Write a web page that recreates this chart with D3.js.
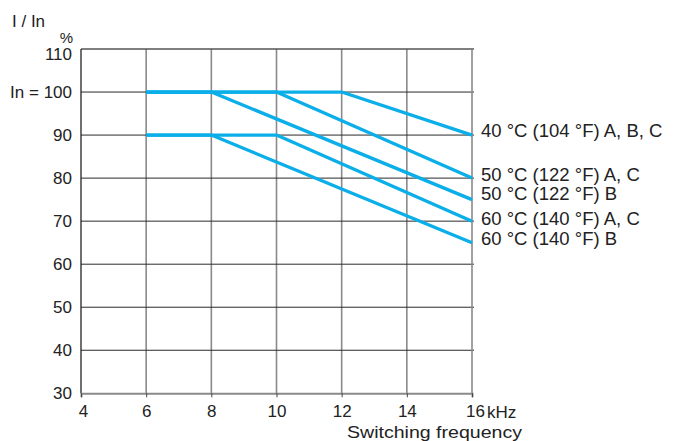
<!DOCTYPE html>
<html><head><meta charset="utf-8">
<script src="https://cdn.jsdelivr.net/npm/d3@7"></script>
<style>body{margin:0;background:#fff}svg{display:block}text{font-family:"Liberation Sans",Arial,sans-serif;fill:#222}</style>
</head><body><svg id="c" width="678" height="441"></svg>
<script>
const xTicks = [4, 6, 8, 10, 12, 14, 16];
const xTickLabels = ["4", "6", "8", "10", "12", "14", "16"];
const yTicks = [30, 40, 50, 60, 70, 80, 90, 100, 110];
const yTickLabels = ["30", "40", "50", "60", "70", "80", "90", "In = 100", "110"];
const seriesNames = ["40 °C (104 °F) A, B, C", "50 °C (122 °F) A, C", "50 °C (122 °F) B", "60 °C (140 °F) A, C", "60 °C (140 °F) B"];
const s40ABC = [[6, 100], [12, 100], [16, 90]];
const s50AC = [[6, 100], [10, 100], [16, 80]];
const s50B = [[6, 100], [8, 100], [16, 75]];
const s60AC = [[6, 90], [10, 90], [16, 70]];
const s60B = [[6, 90], [8, 90], [16, 65]];
const seriesData = [s40ABC, s50AC, s50B, s60AC, s60B];

const svg = d3.select("#c");
const FONT = "Liberation Sans, Arial, sans-serif";
const x = d3.scaleLinear().domain([4, 16]).range([81, 472]);
const y = d3.scaleLinear().domain([30, 110]).range([393.3, 49]);

// vertical grid (grey)
svg.append("g").selectAll("line").data(xTicks.slice(1, -1)).join("line")
  .attr("x1", d => x(d)).attr("x2", d => x(d)).attr("y1", y(110)).attr("y2", y(30))
  .attr("stroke", "#8a8a8a").attr("stroke-width", 1.6);
// horizontal grid (dark)
svg.append("g").selectAll("line").data(yTicks.slice(1, -1)).join("line")
  .attr("x1", x(4)).attr("x2", x(16) + 2).attr("y1", d => y(d)).attr("y2", d => y(d))
  .attr("stroke", "#2a2a2a").attr("stroke-width", 1);
// frame
svg.append("line").attr("x1", x(4)).attr("x2", x(16) + 2).attr("y1", y(110)).attr("y2", y(110)).attr("stroke", "#555").attr("stroke-width", 1.4);
svg.append("line").attr("x1", x(16)).attr("x2", x(16)).attr("y1", y(110)).attr("y2", y(30)).attr("stroke", "#8a8a8a").attr("stroke-width", 1.6);
svg.append("line").attr("x1", x(4)).attr("x2", x(4)).attr("y1", y(110)).attr("y2", y(30)).attr("stroke", "#222").attr("stroke-width", 1.3);

// x axis
const xAxis = d3.axisBottom(x).tickValues(xTicks).tickFormat((d, i) => xTickLabels[i]).tickSize(4).tickPadding(8);
const gx = svg.append("g").attr("transform", `translate(0,${y(30)})`).call(xAxis);
gx.select(".domain").attr("stroke", "#8a8a8a").attr("stroke-width", 2);
gx.selectAll(".tick line").attr("stroke", "#444");
gx.selectAll(".tick text").attr("font-size", 17).attr("fill", "#222").attr("font-family", FONT)
  .attr("dx", d => d === 16 ? 3 : (d === 4 ? 2 : 0));

// y axis
const yAxis = d3.axisLeft(y).tickValues(yTicks).tickFormat((d, i) => yTickLabels[i]).tickSize(0).tickPadding(9);
const gy = svg.append("g").attr("transform", `translate(${x(4)},0)`).call(yAxis);
gy.select(".domain").remove();
gy.selectAll(".tick text").attr("font-size", 17).attr("fill", "#222").attr("font-family", FONT)
  .attr("dy", d => d === 110 ? "0.62em" : "0.32em");

// series lines
const line = d3.line().x(d => x(d[0])).y(d => y(d[1]));
svg.append("g").selectAll("path").data(seriesData).join("path")
  .attr("d", line).attr("fill", "none").attr("stroke", "#0aaee8").attr("stroke-width", 3.3)
  .attr("stroke-linejoin", "round");

// series labels (small pixel nudges to separate them as in the reference)
const labelNudge = [-5, -4, -6.5, -2.5, -4.5];
svg.append("g").selectAll("text").data(seriesData).join("text")
  .attr("x", d => x(d[d.length - 1][0]) + 9)
  .attr("y", (d, i) => y(d[d.length - 1][1]) + labelNudge[i])
  .attr("dy", "0.36em").attr("font-size", 18.5)
  .text((d, i) => seriesNames[i]);

// titles
svg.append("text").attr("x", 12).attr("y", 27).attr("font-size", 17).text("I / In");
svg.append("text").attr("x", 73).attr("y", 43).attr("text-anchor", "end").attr("font-size", 15).text("%");
svg.append("text").attr("x", x(16) + 15).attr("y", y(30) + 24.5).attr("font-size", 17).text("kHz");
svg.append("text").attr("x", 347).attr("y", 438).attr("font-size", 16.5)
  .attr("textLength", 175).attr("lengthAdjust", "spacingAndGlyphs").text("Switching frequency");
</script></body></html>
